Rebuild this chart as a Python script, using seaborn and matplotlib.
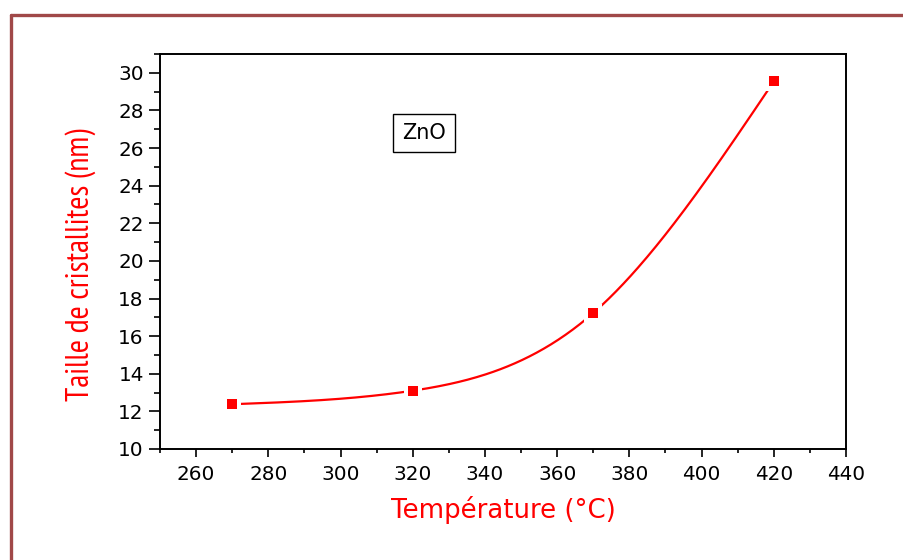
import numpy as np
import pandas as pd
import matplotlib
matplotlib.use("Agg")
import matplotlib.pyplot as plt
from matplotlib.lines import Line2D
from matplotlib.ticker import MultipleLocator
from matplotlib import font_manager as fm
import seaborn as sns

# ---- data ----
temperature = [270, 320, 370, 420]          # °C
crystal_size = [12.38, 13.10, 17.23, 29.54]  # nm
label_text = "ZnO"
x_label = "Température (°C)"
y_label = "Taille de cristallites (nm)"

RED = "#ff0000"


def natural_spline(x, y, num=300):
    x = np.asarray(x, float)
    y = np.asarray(y, float)
    n = len(x)
    h = np.diff(x)
    A = np.zeros((n, n))
    b = np.zeros(n)
    A[0, 0] = 1.0
    A[-1, -1] = 1.0
    for i in range(1, n - 1):
        A[i, i - 1] = h[i - 1]
        A[i, i] = 2 * (h[i - 1] + h[i])
        A[i, i + 1] = h[i]
        b[i] = 6 * ((y[i + 1] - y[i]) / h[i] - (y[i] - y[i - 1]) / h[i - 1])
    M = np.linalg.solve(A, b)
    xs = np.linspace(x[0], x[-1], num)
    idx = np.clip(np.searchsorted(x, xs) - 1, 0, n - 2)
    x0, x1 = x[idx], x[idx + 1]
    hh = x1 - x0
    ys = (M[idx] * (x1 - xs) ** 3 / (6 * hh) + M[idx + 1] * (xs - x0) ** 3 / (6 * hh)
          + (y[idx] / hh - M[idx] * hh / 6) * (x1 - xs)
          + (y[idx + 1] / hh - M[idx + 1] * hh / 6) * (xs - x0))
    return xs, ys


sns.set_style("ticks")
plt.rcParams["font.family"] = ["DejaVu Sans"]

# look for a condensed / narrow sans font for the y label
narrow_file = None
for f in fm.findSystemFonts():
    name = f.lower()
    if ("sansnarrow-regular" in name or "sans-narrow" in name.replace("sansnarrow", "sans-narrow")) and "bold" not in name and "italic" not in name:
        narrow_file = f
        break
if narrow_file is None:
    for f in fm.findSystemFonts():
        name = f.lower()
        if "dejavusanscondensed.ttf" in name:
            narrow_file = f
            break
if narrow_file is not None:
    ylab_font = fm.FontProperties(fname=narrow_file, size=23)
else:
    ylab_font = fm.FontProperties(family="DejaVu Sans", size=18)

fig = plt.figure(figsize=(9.04, 5.6), dpi=100)
ax = fig.add_axes([160 / 904, 1 - 449 / 560, (846 - 160) / 904, (449 - 54) / 560])

df = pd.DataFrame({"T": temperature, "D": crystal_size})
xs, ys = natural_spline(temperature, crystal_size)
curve = pd.DataFrame({"T": xs, "D": ys})

sns.lineplot(data=curve, x="T", y="D", ax=ax, color=RED, linewidth=1.6, zorder=2)
sns.scatterplot(data=df, x="T", y="D", ax=ax, marker="s", s=170, color="white",
                edgecolor="none", linewidth=0, zorder=3)
sns.scatterplot(data=df, x="T", y="D", ax=ax, marker="s", s=52, color=RED,
                edgecolor="none", linewidth=0, zorder=4)

ax.set_xlim(250, 440)
ax.set_ylim(10, 31)
ax.xaxis.set_major_locator(MultipleLocator(20))
ax.xaxis.set_minor_locator(MultipleLocator(10))
ax.yaxis.set_major_locator(MultipleLocator(2))
ax.yaxis.set_minor_locator(MultipleLocator(1))

for s in ax.spines.values():
    s.set_linewidth(1.4)
    s.set_color("black")

ax.tick_params(axis="x", which="major", direction="out", length=5.5, width=1.2,
               labelsize=14.4, colors="black", pad=6)
ax.tick_params(axis="x", which="minor", direction="out", length=2.8, width=1.2,
               colors="black")
ax.tick_params(axis="y", which="major", direction="out", length=7.7, width=1.2,
               labelsize=14.4, colors="black", pad=4)
ax.tick_params(axis="y", which="minor", direction="out", length=4.3, width=1.2,
               colors="black")
ax.tick_params(top=False, right=False, which="both")

ax.set_xlabel(x_label, fontsize=18.7, color=RED, family=["DejaVu Sans"])
ax.xaxis.set_label_coords(0.5, -0.118)
ax.xaxis.label.set_va("top")
ax.set_ylabel(y_label, color=RED, fontproperties=ylab_font)
ax.yaxis.set_label_coords(-0.093, 0.466)

ax.text(0.385, 0.80, label_text, transform=ax.transAxes, ha="center", va="center",
        fontsize=15, color="black",
        bbox=dict(boxstyle="square,pad=0.45", facecolor="white", edgecolor="black",
                  linewidth=1.0))

# outer frame (top and left edges)
fig.add_artist(Line2D([11 / 904, 1.0], [1 - 15 / 560, 1 - 15 / 560],
                      transform=fig.transFigure, color="#a04848", linewidth=2.4))
fig.add_artist(Line2D([11 / 904, 11 / 904], [0.0, 1 - 15 / 560],
                      transform=fig.transFigure, color="#a04848", linewidth=2.4))

fig.savefig("out.png", dpi=100, facecolor="white")
